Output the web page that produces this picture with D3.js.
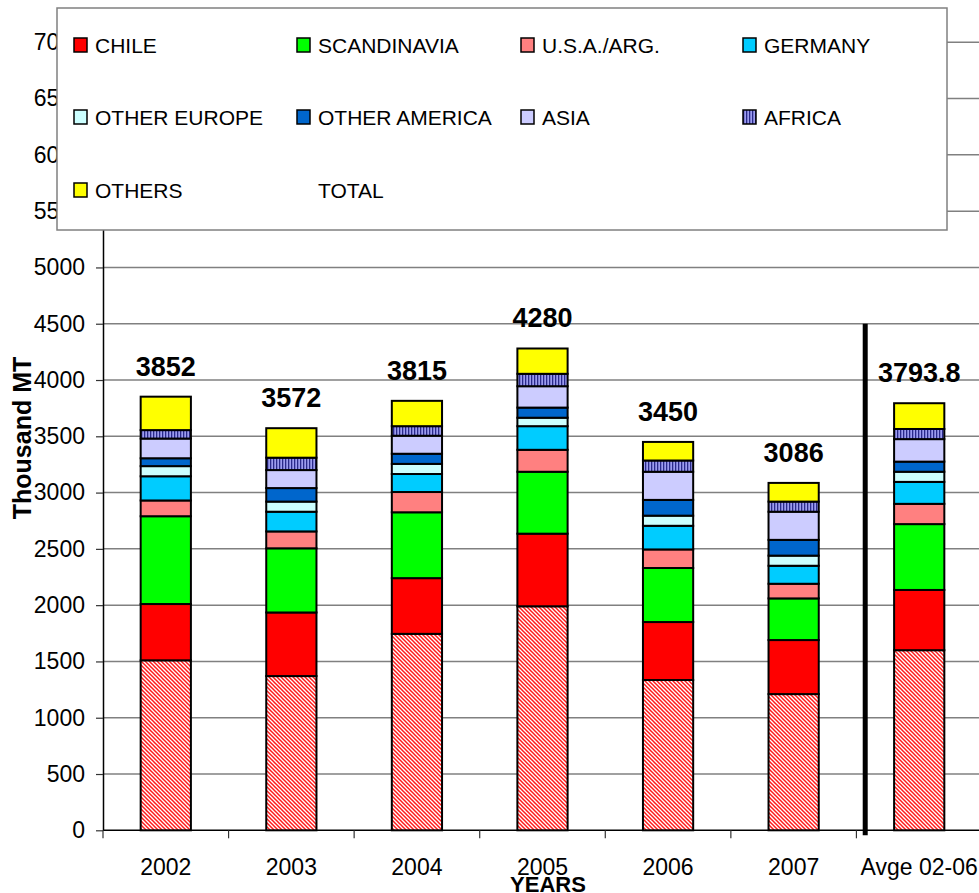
<!DOCTYPE html>
<html>
<head>
<meta charset="utf-8">
<script src="https://cdn.jsdelivr.net/npm/d3@7"></script>
<style>
  body { margin: 0; background: #fff; }
  svg { display: block; font-family: 'Liberation Sans', Arial, sans-serif; }
</style>
</head>
<body>
<svg width="979" height="893"></svg>
<script>
// categories and series (thousand MT)
var categories = ['2002', '2003', '2004', '2005', '2006', '2007', 'Avge 02-06'];
var unlisted = [1510, 1370, 1745, 1990, 1335, 1210, 1600];
var chile = [500, 565, 495, 645, 515, 480, 535];
var scandinavia = [780, 570, 585, 550, 480, 370, 585];
var usaArg = [140, 150, 180, 195, 165, 130, 180];
var germany = [215, 175, 160, 210, 210, 160, 195];
var otherEurope = [90, 90, 90, 75, 90, 90, 90];
var otherAmerica = [70, 120, 90, 90, 140, 140, 90];
var asia = [175, 160, 160, 190, 250, 250, 200];
var africa = [75, 110, 85, 110, 100, 90, 90];
var others = [297, 262, 225, 225, 165, 166, 228.8];
var total = [3852, 3572, 3815, 4280, 3450, 3086, 3793.8];
var yTicks = [0, 500, 1000, 1500, 2000, 2500, 3000, 3500, 4000, 4500, 5000, 5500, 6000, 6500, 7000];

var series = [
  { key: 'UNLISTED', values: unlisted, fill: 'url(#hatchRed)', legend: false },
  { key: 'CHILE', values: chile, fill: '#ff0000', legend: true },
  { key: 'SCANDINAVIA', values: scandinavia, fill: '#00ff00', legend: true },
  { key: 'U.S.A./ARG.', values: usaArg, fill: '#ff8080', legend: true },
  { key: 'GERMANY', values: germany, fill: '#00ccff', legend: true },
  { key: 'OTHER EUROPE', values: otherEurope, fill: '#ccffff', legend: true },
  { key: 'OTHER AMERICA', values: otherAmerica, fill: '#0066cc', legend: true },
  { key: 'ASIA', values: asia, fill: '#ccccff', legend: true },
  { key: 'AFRICA', values: africa, fill: 'url(#stripeBlue)', legend: true },
  { key: 'OTHERS', values: others, fill: '#ffff00', legend: true }
];

var rows = categories.map(function (c, i) {
  var r = { cat: c, total: total[i] };
  series.forEach(function (s) { r[s.key] = s.values[i]; });
  return r;
});

var svg = d3.select('svg');

var defs = svg.append('defs');
var hatch = defs.append('pattern')
  .attr('id', 'hatchRed')
  .attr('patternUnits', 'userSpaceOnUse')
  .attr('width', 4).attr('height', 4);
hatch.append('rect').attr('width', 4).attr('height', 4).attr('fill', '#fff');
hatch.append('path')
  .attr('d', 'M-1,-1 L5,5 M-1,3 L1,5 M3,-1 L5,1')
  .attr('stroke', '#ff1a1a').attr('stroke-width', 1.5);

var stripe = defs.append('pattern')
  .attr('id', 'stripeBlue')
  .attr('patternUnits', 'userSpaceOnUse')
  .attr('width', 3).attr('height', 3);
stripe.append('rect').attr('width', 3).attr('height', 3).attr('fill', '#9c9cf0');
stripe.append('rect').attr('width', 1.3).attr('height', 3).attr('fill', '#2a2a8a');

var x = d3.scaleBand()
  .domain(categories)
  .range([103, 982])
  .paddingInner(0.6)
  .paddingOuter(0.3);

var y = d3.scaleLinear()
  .domain([0, 7000])
  .range([830.3, 42.3]);

// gridlines
svg.append('g')
  .selectAll('line')
  .data(yTicks.slice(1))
  .enter()
  .append('line')
  .attr('x1', 103).attr('x2', 982)
  .attr('y1', function (d) { return y(d); })
  .attr('y2', function (d) { return y(d); })
  .style('stroke', '#808080')
  .style('stroke-width', '1.5px');

// y axis
var yAxis = svg.append('g')
  .attr('transform', 'translate(103,0)')
  .call(d3.axisLeft(y).tickValues(yTicks).tickFormat(d3.format('d'))
    .tickSize(7).tickSizeOuter(0).tickPadding(11));
yAxis.select('.domain').style('stroke', '#000').style('stroke-width', '1.5px');
yAxis.selectAll('.tick line').style('stroke', '#333').style('stroke-width', '1.2px');
yAxis.selectAll('.tick text')
  .style('font-size', '23px')
  .style('font-family', "'Liberation Sans', Arial, sans-serif")
  .style('fill', '#000');

// x axis line and category ticks
svg.append('line')
  .attr('x1', 103).attr('x2', 982)
  .attr('y1', y(0)).attr('y2', y(0))
  .style('stroke', '#000').style('stroke-width', '1.5px');

svg.append('g')
  .selectAll('line')
  .data(d3.range(categories.length + 1))
  .enter()
  .append('line')
  .attr('x1', function (d) { return x.range()[0] + d * x.step(); })
  .attr('x2', function (d) { return x.range()[0] + d * x.step(); })
  .attr('y1', y(0)).attr('y2', y(0) + 8)
  .style('stroke', '#333').style('stroke-width', '1.2px');

svg.append('g')
  .selectAll('text')
  .data(categories)
  .enter()
  .append('text')
  .attr('x', function (d) { return x(d) + x.bandwidth() / 2; })
  .attr('y', 875)
  .attr('text-anchor', 'middle')
  .style('font-size', '23px')
  .text(function (d) { return d; });

// stacked bars
var stack = d3.stack().keys(series.map(function (s) { return s.key; }));
var stacked = stack(rows);

svg.append('g')
  .selectAll('g')
  .data(stacked)
  .enter()
  .append('g')
  .attr('fill', function (d, i) { return series[i].fill; })
  .selectAll('rect')
  .data(function (d) { return d; })
  .enter()
  .append('rect')
  .attr('x', function (d) { return x(d.data.cat); })
  .attr('width', x.bandwidth())
  .attr('y', function (d) { return y(d[1]); })
  .attr('height', function (d) { return y(d[0]) - y(d[1]); })
  .style('stroke', '#000')
  .style('stroke-width', '2px');

// divider between years and average
var divX = x.range()[0] + 6 * x.step() + 0.07 * x.step();
svg.append('line')
  .attr('x1', divX).attr('x2', divX)
  .attr('y1', y(4500)).attr('y2', y(0) + 5)
  .style('stroke', '#000').style('stroke-width', '5px');

// totals
svg.append('g')
  .selectAll('text')
  .data(rows)
  .enter()
  .append('text')
  .attr('x', function (d) { return x(d.cat) + x.bandwidth() / 2; })
  .attr('y', function (d) { return y(d.total) - 21; })
  .attr('text-anchor', 'middle')
  .style('font-size', '27px')
  .style('font-weight', 'bold')
  .text(function (d) { return String(d.total); });

// axis titles
svg.append('text')
  .attr('transform', 'translate(31,438) rotate(-90)')
  .attr('text-anchor', 'middle')
  .style('font-size', '25px')
  .style('font-weight', 'bold')
  .text('Thousand MT');

svg.append('text')
  .attr('x', 548).attr('y', 892)
  .attr('text-anchor', 'middle')
  .style('font-size', '22px')
  .style('font-weight', 'bold')
  .text('YEARS');

// legend
var legendItems = series.filter(function (s) { return s.legend; })
  .map(function (s) { return { key: s.key, fill: s.fill, swatch: true }; });
legendItems.push({ key: 'TOTAL', fill: null, swatch: false });

var legend = svg.append('g');
legend.append('rect')
  .attr('x', 57).attr('y', 8)
  .attr('width', 890).attr('height', 222)
  .style('fill', '#fff')
  .style('stroke', '#808080')
  .style('stroke-width', '1.5px');

var colX = [74, 297, 521, 743];
var rowY = [45, 117, 190];

var item = legend.selectAll('g.item')
  .data(legendItems)
  .enter()
  .append('g')
  .attr('class', 'item')
  .attr('transform', function (d, i) {
    return 'translate(' + colX[i % 4] + ',' + rowY[Math.floor(i / 4)] + ')';
  });

item.filter(function (d) { return d.swatch; })
  .append('rect')
  .attr('x', 0).attr('y', -7)
  .attr('width', 13).attr('height', 14)
  .attr('fill', function (d) { return d.fill; })
  .style('stroke', '#000')
  .style('stroke-width', '1.5px');

item.append('text')
  .attr('x', 21)
  .attr('y', 7.5)
  .style('font-size', '21px')
  .text(function (d) { return d.key; });
</script>
</body>
</html>
